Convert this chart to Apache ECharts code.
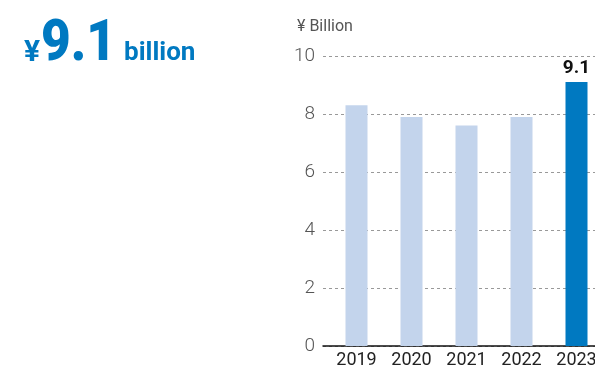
<!DOCTYPE html>
<html>
<head>
<meta charset="utf-8">
<script src="https://cdn.jsdelivr.net/npm/echarts@6/dist/echarts.min.js"></script>
<style>
  html, body { margin: 0; padding: 0; background: #fff; overflow: hidden; }
  #chart { width: 610px; height: 369px; }
</style>
</head>
<body>
<div id="chart"></div>
<script>
// Annual amounts, ¥ billion
const years = ['2019', '2020', '2021', '2022', '2023'];
const amounts = [8.3, 7.9, 7.6, 7.9, 9.1];
const yTicks = [0, 2, 4, 6, 8, 10];

const LIGHT = '#c3d4ec';
const DARK = '#0079c1';
const lastIdx = years.length - 1;
const FONT = 'Roboto';

const chart = echarts.init(document.getElementById('chart'), null, { renderer: 'canvas' });

chart.setOption({
  animation: false,
  textStyle: { fontFamily: FONT },
  graphic: [
    // headline figure
    {
      type: 'text', x: 24, y: 53,
      style: { text: '¥', fontSize: 30, fontWeight: 'bold', fill: DARK, fontFamily: FONT, verticalAlign: 'middle' }
    },
    {
      type: 'text', x: 41, y: 46, scaleX: 0.9,
      style: { text: amounts[lastIdx].toFixed(1), fontSize: 57, fontWeight: 900, fill: DARK, fontFamily: FONT, verticalAlign: 'middle' }
    },
    {
      type: 'text', x: 124, y: 53,
      style: { text: 'billion', fontSize: 26, fontWeight: 'bold', fill: DARK, fontFamily: FONT, verticalAlign: 'middle' }
    },
    // unit caption
    {
      type: 'text', x: 297, y: 27,
      style: { text: '¥ Billion', fontSize: 16, fill: '#555', fontFamily: FONT, verticalAlign: 'middle' }
    }
  ],
  grid: [
    // frame: value axis, dashed guides and baseline
    { left: 323, top: 56, width: 287, bottom: 23, containLabel: false },
    // bars
    { left: 329, top: 56, width: 275, bottom: 23, containLabel: false }
  ],
  xAxis: [
    {
      gridIndex: 0, type: 'value', min: 0, max: 1,
      axisLine: { show: true, onZero: false, lineStyle: { color: '#111', width: 1.5 } },
      axisTick: { show: false }, axisLabel: { show: false }, splitLine: { show: false }
    },
    {
      gridIndex: 1, type: 'category', data: years,
      axisLine: { show: false },
      axisTick: { show: false },
      axisLabel: { fontSize: 18, color: '#222', margin: 5, fontFamily: FONT }
    }
  ],
  yAxis: [
    {
      gridIndex: 0, type: 'value',
      min: yTicks[0], max: yTicks[yTicks.length - 1], interval: 2,
      axisLine: { show: false }, axisTick: { show: false },
      axisLabel: { fontSize: 19, color: '#555', margin: 8, fontWeight: 300, fontFamily: FONT },
      splitLine: { lineStyle: { color: '#999', type: [3, 3], width: 1 } }
    },
    {
      gridIndex: 1, type: 'value',
      min: yTicks[0], max: yTicks[yTicks.length - 1], interval: 2,
      show: false, splitLine: { show: false }
    }
  ],
  series: [{
    type: 'bar',
    xAxisIndex: 1, yAxisIndex: 1,
    barWidth: 22,
    data: amounts.map((v, i) => ({
      value: v,
      itemStyle: { color: i === lastIdx ? DARK : LIGHT },
      label: i === lastIdx ? {
        show: true, position: 'top', distance: 4,
        fontSize: 19, fontWeight: 'bold', color: '#111', fontFamily: FONT,
        formatter: p => p.value.toFixed(1)
      } : { show: false }
    }))
  }]
});
</script>
</body>
</html>
